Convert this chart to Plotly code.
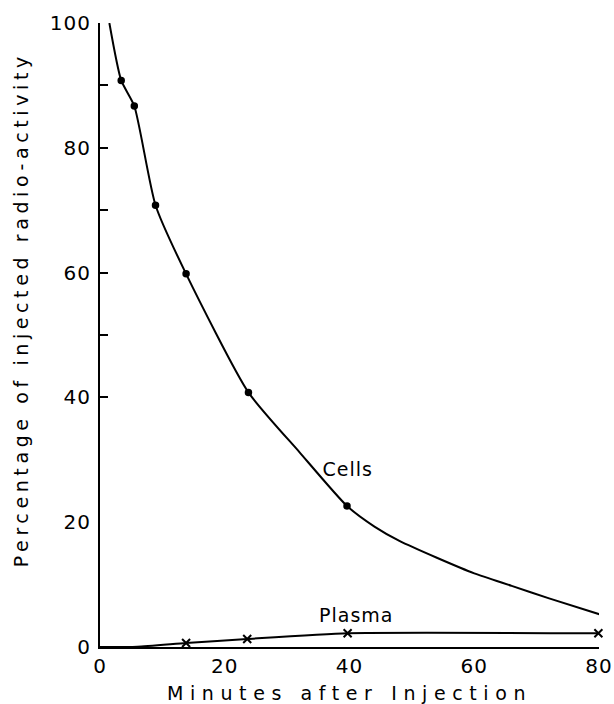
import plotly.graph_objects as go

cells_x = [3.4, 5.5, 8.9, 13.8, 23.8, 39.6, 80.2]
cells_y = [90.8, 86.7, 70.8, 59.8, 40.8, 22.6, 5.2]
plasma_x = [13.8, 23.6, 39.7, 79.9]
plasma_y = [0.64, 1.28, 2.2, 2.2]

# Hand-drawn smooth curves
cells_curve_x = [1.5, 3.4, 5.5, 8.9, 13.8, 23.8, 32, 39.6, 44, 48, 54, 60, 66, 72, 80.2]
cells_curve_y = [100, 90.8, 86.7, 70.8, 59.8, 40.8, 31.2, 22.6, 19.3, 17.0, 14.3, 11.8, 9.8, 7.8, 5.2]
plasma_curve_x = [0, 6, 13.8, 23.6, 39.7, 79.9]
plasma_curve_y = [0, 0.05, 0.64, 1.28, 2.2, 2.2]

x_ticks = [0, 20, 40, 60, 80]
y_ticks = [0, 20, 40, 60, 80, 100]
y_tick_marks = [40, 50, 60, 70, 80, 90, 100]

FONT = "DejaVu Sans"

fig = go.Figure()
fig.add_trace(go.Scatter(x=cells_curve_x, y=cells_curve_y, mode="lines", yaxis="y2",
                         line=dict(color="black", width=2, shape="spline", smoothing=0.6),
                         hoverinfo="skip", showlegend=False))
fig.add_trace(go.Scatter(x=plasma_curve_x, y=plasma_curve_y, mode="lines", yaxis="y2",
                         line=dict(color="black", width=2, shape="spline", smoothing=0.5),
                         hoverinfo="skip", showlegend=False))
fig.add_trace(go.Scatter(x=cells_x, y=cells_y, mode="markers", name="Cells",
                         marker=dict(symbol="circle", size=10, color="black",
                                     line=dict(color="white", width=2.5)),
                         cliponaxis=False, showlegend=False))
fig.add_trace(go.Scatter(x=plasma_x, y=plasma_y, mode="markers", name="Plasma",
                         marker=dict(symbol="x-thin", size=8, color="black",
                                     line=dict(color="black", width=2)),
                         cliponaxis=False, showlegend=False))

fig.add_annotation(x=39.7, y=28.6, text="Cells", showarrow=False,
                   font=dict(family=FONT, size=19, color="black"))
fig.add_annotation(x=41.1, y=5.2, text="Plasma", showarrow=False,
                   font=dict(family=FONT, size=19, color="black"))
fig.add_annotation(xref="paper", yref="paper", x=-0.158, y=0.54,
                   text="Percentage of injected radio-activity", textangle=-90,
                   showarrow=False, xanchor="center", yanchor="middle",
                   font=dict(family=FONT, size=19, color="black"))

fig.update_layout(
    width=614, height=704,
    margin=dict(l=100, r=15, t=23, b=57),
    plot_bgcolor="white", paper_bgcolor="white",
    font=dict(family=FONT, color="black"),
    xaxis=dict(range=[0, 80], tickvals=x_ticks, ticktext=[str(v) for v in x_ticks],
               ticks="", showgrid=False, zeroline=False, showline=True,
               linecolor="black", linewidth=2, automargin=False,
               tickfont=dict(family=FONT, size=20),
               title=dict(text="Minutes after Injection", standoff=10,
                          font=dict(family=FONT, size=19))),
    yaxis=dict(range=[0, 100], tickvals=y_ticks, ticktext=[str(v) for v in y_ticks],
               ticks="", showgrid=False, zeroline=False, showline=True,
               linecolor="black", linewidth=2, ticklabelstandoff=3, automargin=False,
               tickfont=dict(family=FONT, size=20)),
    yaxis2=dict(range=[0, 100], overlaying="y", side="left", anchor="x",
                tickmode="array", tickvals=y_tick_marks, ticks="inside",
                ticklen=8, tickwidth=2, tickcolor="black", automargin=False,
                showticklabels=False, showgrid=False, zeroline=False, showline=False),
)

post = """
(function(){
  function apply(){
    document.querySelectorAll('.xtitle').forEach(function(t){t.style.letterSpacing='6.6px';});
    document.querySelectorAll('.annotation-text').forEach(function(t){
      if (t.textContent.indexOf('Percentage') === 0) { t.style.letterSpacing='4.6px'; }
      else { t.style.letterSpacing='1px'; }
    });
    document.querySelectorAll('.xtick text, .ytick text').forEach(function(t){t.style.letterSpacing='1px';});
  }
  apply();
  setTimeout(apply, 50);
})();
"""

fig.write_html("out.html", post_script=post)
